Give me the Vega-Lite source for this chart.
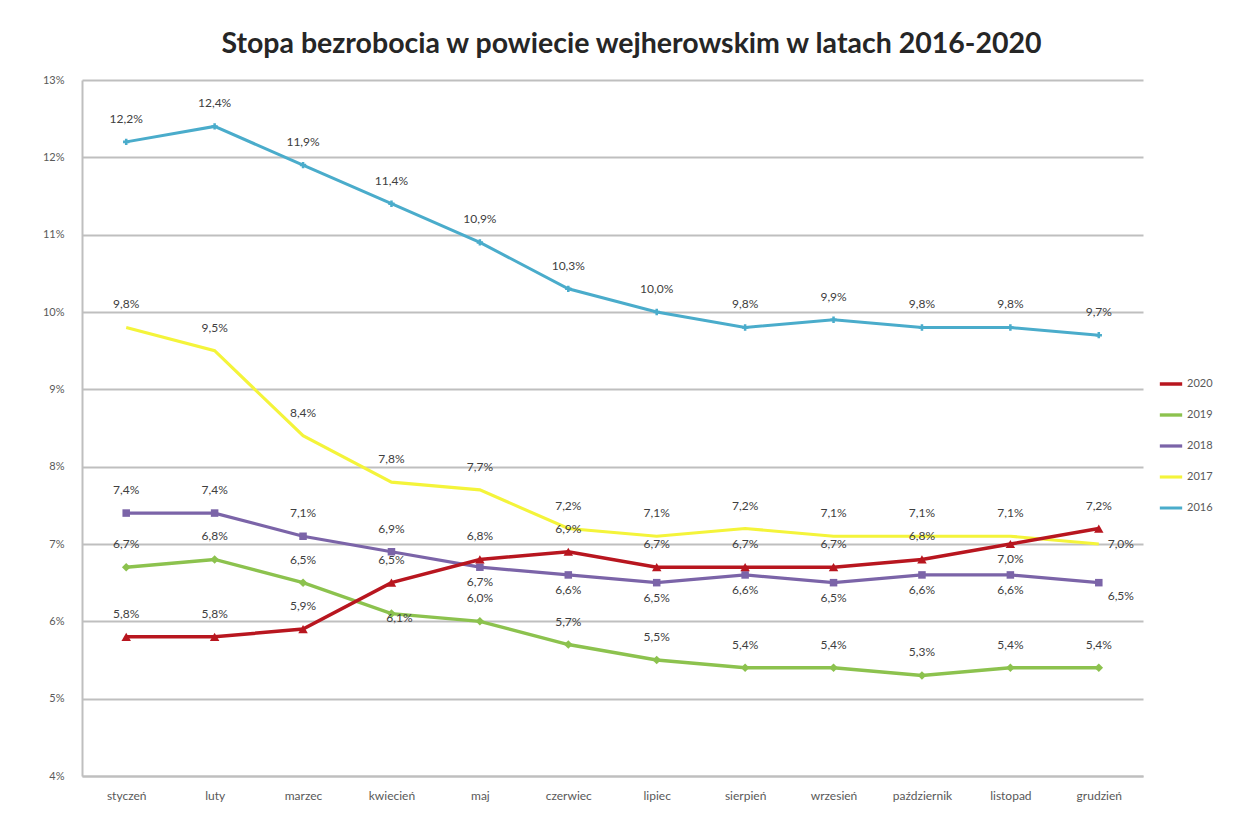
{
  "$schema": "https://vega.github.io/schema/vega-lite/v6.json",
  "width": 1061,
  "height": 696,
  "autosize": {"type": "none"},
  "padding": {"left": 82, "top": 80, "right": 98, "bottom": 43},
  "background": "white",
  "title": {
    "text": "Stopa bezrobocia w powiecie wejherowskim w latach 2016-2020",
    "font": "Lato",
    "fontSize": 28.5,
    "fontWeight": "bold",
    "color": "#262626",
    "anchor": "middle",
    "offset": 16,
    "dx": 19
  },
  "config": {
    "locale": {
      "number": {"decimal": ",", "thousands": " ", "grouping": [3], "currency": ["", " zł"]}
    },
    "view": {"stroke": null},
    "font": "Lato"
  },
  "data": {
    "values": [
      {"miesiac": "styczeń", "rok": "2016", "v": 0.122},
      {"miesiac": "luty", "rok": "2016", "v": 0.124},
      {"miesiac": "marzec", "rok": "2016", "v": 0.119},
      {"miesiac": "kwiecień", "rok": "2016", "v": 0.114},
      {"miesiac": "maj", "rok": "2016", "v": 0.109},
      {"miesiac": "czerwiec", "rok": "2016", "v": 0.103},
      {"miesiac": "lipiec", "rok": "2016", "v": 0.100},
      {"miesiac": "sierpień", "rok": "2016", "v": 0.098},
      {"miesiac": "wrzesień", "rok": "2016", "v": 0.099},
      {"miesiac": "październik", "rok": "2016", "v": 0.098},
      {"miesiac": "listopad", "rok": "2016", "v": 0.098},
      {"miesiac": "grudzień", "rok": "2016", "v": 0.097},
      {"miesiac": "styczeń", "rok": "2017", "v": 0.098},
      {"miesiac": "luty", "rok": "2017", "v": 0.095},
      {"miesiac": "marzec", "rok": "2017", "v": 0.084},
      {"miesiac": "kwiecień", "rok": "2017", "v": 0.078},
      {"miesiac": "maj", "rok": "2017", "v": 0.077},
      {"miesiac": "czerwiec", "rok": "2017", "v": 0.072},
      {"miesiac": "lipiec", "rok": "2017", "v": 0.071},
      {"miesiac": "sierpień", "rok": "2017", "v": 0.072},
      {"miesiac": "wrzesień", "rok": "2017", "v": 0.071},
      {"miesiac": "październik", "rok": "2017", "v": 0.071},
      {"miesiac": "listopad", "rok": "2017", "v": 0.071},
      {"miesiac": "grudzień", "rok": "2017", "v": 0.070},
      {"miesiac": "styczeń", "rok": "2018", "v": 0.074},
      {"miesiac": "luty", "rok": "2018", "v": 0.074},
      {"miesiac": "marzec", "rok": "2018", "v": 0.071},
      {"miesiac": "kwiecień", "rok": "2018", "v": 0.069},
      {"miesiac": "maj", "rok": "2018", "v": 0.067},
      {"miesiac": "czerwiec", "rok": "2018", "v": 0.066},
      {"miesiac": "lipiec", "rok": "2018", "v": 0.065},
      {"miesiac": "sierpień", "rok": "2018", "v": 0.066},
      {"miesiac": "wrzesień", "rok": "2018", "v": 0.065},
      {"miesiac": "październik", "rok": "2018", "v": 0.066},
      {"miesiac": "listopad", "rok": "2018", "v": 0.066},
      {"miesiac": "grudzień", "rok": "2018", "v": 0.065},
      {"miesiac": "styczeń", "rok": "2019", "v": 0.067},
      {"miesiac": "luty", "rok": "2019", "v": 0.068},
      {"miesiac": "marzec", "rok": "2019", "v": 0.065},
      {"miesiac": "kwiecień", "rok": "2019", "v": 0.061},
      {"miesiac": "maj", "rok": "2019", "v": 0.060},
      {"miesiac": "czerwiec", "rok": "2019", "v": 0.057},
      {"miesiac": "lipiec", "rok": "2019", "v": 0.055},
      {"miesiac": "sierpień", "rok": "2019", "v": 0.054},
      {"miesiac": "wrzesień", "rok": "2019", "v": 0.054},
      {"miesiac": "październik", "rok": "2019", "v": 0.053},
      {"miesiac": "listopad", "rok": "2019", "v": 0.054},
      {"miesiac": "grudzień", "rok": "2019", "v": 0.054},
      {"miesiac": "styczeń", "rok": "2020", "v": 0.058},
      {"miesiac": "luty", "rok": "2020", "v": 0.058},
      {"miesiac": "marzec", "rok": "2020", "v": 0.059},
      {"miesiac": "kwiecień", "rok": "2020", "v": 0.065},
      {"miesiac": "maj", "rok": "2020", "v": 0.068},
      {"miesiac": "czerwiec", "rok": "2020", "v": 0.069},
      {"miesiac": "lipiec", "rok": "2020", "v": 0.067},
      {"miesiac": "sierpień", "rok": "2020", "v": 0.067},
      {"miesiac": "wrzesień", "rok": "2020", "v": 0.067},
      {"miesiac": "październik", "rok": "2020", "v": 0.068},
      {"miesiac": "listopad", "rok": "2020", "v": 0.070},
      {"miesiac": "grudzień", "rok": "2020", "v": 0.072}
    ]
  },
  "encoding": {
    "x": {
      "field": "miesiac",
      "type": "nominal",
      "sort": ["styczeń", "luty", "marzec", "kwiecień", "maj", "czerwiec", "lipiec", "sierpień", "wrzesień", "październik", "listopad", "grudzień"],
      "scale": {"paddingInner": 0, "paddingOuter": 0.5},
      "axis": {
        "title": null,
        "labelAngle": 0,
        "ticks": false,
        "domain": true,
        "domainColor": "#bfbfbf",
        "domainWidth": 2,
        "labelColor": "#595959",
        "labelFontSize": 12,
        "labelPadding": 14,
        "labelFont": "Lato"
      }
    },
    "y": {
      "field": "v",
      "type": "quantitative",
      "scale": {"domain": [0.04, 0.13], "nice": false, "zero": false},
      "axis": {
        "title": null,
        "values": [0.04, 0.05, 0.06, 0.07, 0.08, 0.09, 0.10, 0.11, 0.12, 0.13],
        "format": ".0%",
        "ticks": false,
        "domain": true,
        "domainColor": "#bfbfbf",
        "domainWidth": 2,
        "grid": true,
        "gridColor": "#bfbfbf",
        "gridWidth": 2,
        "labelColor": "#595959",
        "labelFontSize": 11,
        "labelPadding": 18,
        "labelFont": "Lato"
      }
    }
  },
  "layer": [
    {
      "mark": {"type": "line"},
      "encoding": {
        "color": {
          "field": "rok",
          "type": "nominal",
          "scale": {
            "domain": ["2020", "2019", "2018", "2017", "2016"],
            "range": ["#b8161f", "#8cc24e", "#7b64a8", "#f4f43a", "#4aaccb"]
          },
          "legend": {
            "title": null,
            "orient": "none",
            "legendX": 1076,
            "legendY": 291,
            "symbolType": "stroke",
            "symbolStrokeWidth": 3.5,
            "symbolSize": 500,
            "labelFontSize": 11,
            "labelColor": "#595959",
            "rowPadding": 11,
            "labelOffset": 3
          }
        },
        "strokeWidth": {
          "field": "rok",
          "type": "nominal",
          "scale": {"domain": ["2020", "2019", "2018", "2017", "2016"], "range": [3.5, 3, 3.5, 4.5, 3.5]},
          "legend": null
        }
      }
    },
    {
      "mark": {"type": "point", "filled": true, "opacity": 1},
      "transform": [{"filter": {"field": "rok", "oneOf": ["2020", "2019", "2018", "2016"]}}],
      "encoding": {
        "color": {"field": "rok", "type": "nominal", "legend": null},
        "shape": {
          "field": "rok",
          "type": "nominal",
          "scale": {
            "domain": ["2020", "2019", "2018", "2016"],
            "range": ["triangle-up", "diamond", "square", "cross"]
          },
          "legend": null
        },
        "size": {
          "field": "rok",
          "type": "nominal",
          "scale": {"domain": ["2020", "2019", "2018", "2016"], "range": [90, 40, 130, 40]},
          "legend": null
        }
      }
    },
    {
      "mark": {"type": "text", "dy": -23, "fontSize": 12, "color": "#404040", "font": "Lato"},
      "transform": [
        {"filter": {"not": {"or": [
          {"and": [
            {"field": "rok", "equal": "2018"},
            {"field": "miesiac", "oneOf": ["maj", "czerwiec", "lipiec", "sierpień", "wrzesień", "październik", "listopad", "grudzień"]}
          ]},
          {"and": [{"field": "rok", "equal": "2020"}, {"field": "miesiac", "equal": "listopad"}]},
          {"and": [{"field": "rok", "equal": "2017"}, {"field": "miesiac", "equal": "grudzień"}]},
          {"and": [{"field": "rok", "equal": "2019"}, {"field": "miesiac", "equal": "kwiecień"}]}
        ]}}}
      ],
      "encoding": {"text": {"field": "v", "type": "quantitative", "format": ".1%"}}
    },
    {
      "mark": {"type": "text", "dy": 15, "fontSize": 12, "color": "#404040", "font": "Lato"},
      "transform": [
        {"filter": {"or": [
          {"and": [
            {"field": "rok", "equal": "2018"},
            {"field": "miesiac", "oneOf": ["maj", "czerwiec", "lipiec", "sierpień", "wrzesień", "październik", "listopad"]}
          ]},
          {"and": [{"field": "rok", "equal": "2020"}, {"field": "miesiac", "equal": "listopad"}]}
        ]}}
      ],
      "encoding": {"text": {"field": "v", "type": "quantitative", "format": ".1%"}}
    },
    {
      "mark": {"type": "text", "dx": 22, "dy": 13, "fontSize": 12, "color": "#404040", "font": "Lato"},
      "transform": [
        {"filter": {"and": [{"field": "rok", "equal": "2018"}, {"field": "miesiac", "equal": "grudzień"}]}}
      ],
      "encoding": {"text": {"field": "v", "type": "quantitative", "format": ".1%"}}
    },
    {
      "mark": {"type": "text", "dx": 22, "dy": 0, "fontSize": 12, "color": "#404040", "font": "Lato"},
      "transform": [
        {"filter": {"and": [{"field": "rok", "equal": "2017"}, {"field": "miesiac", "equal": "grudzień"}]}}
      ],
      "encoding": {"text": {"field": "v", "type": "quantitative", "format": ".1%"}}
    },
    {
      "mark": {"type": "text", "dx": 8, "dy": 4, "fontSize": 12, "color": "#404040", "font": "Lato"},
      "transform": [
        {"filter": {"and": [{"field": "rok", "equal": "2019"}, {"field": "miesiac", "equal": "kwiecień"}]}}
      ],
      "encoding": {"text": {"field": "v", "type": "quantitative", "format": ".1%"}}
    }
  ]
}
